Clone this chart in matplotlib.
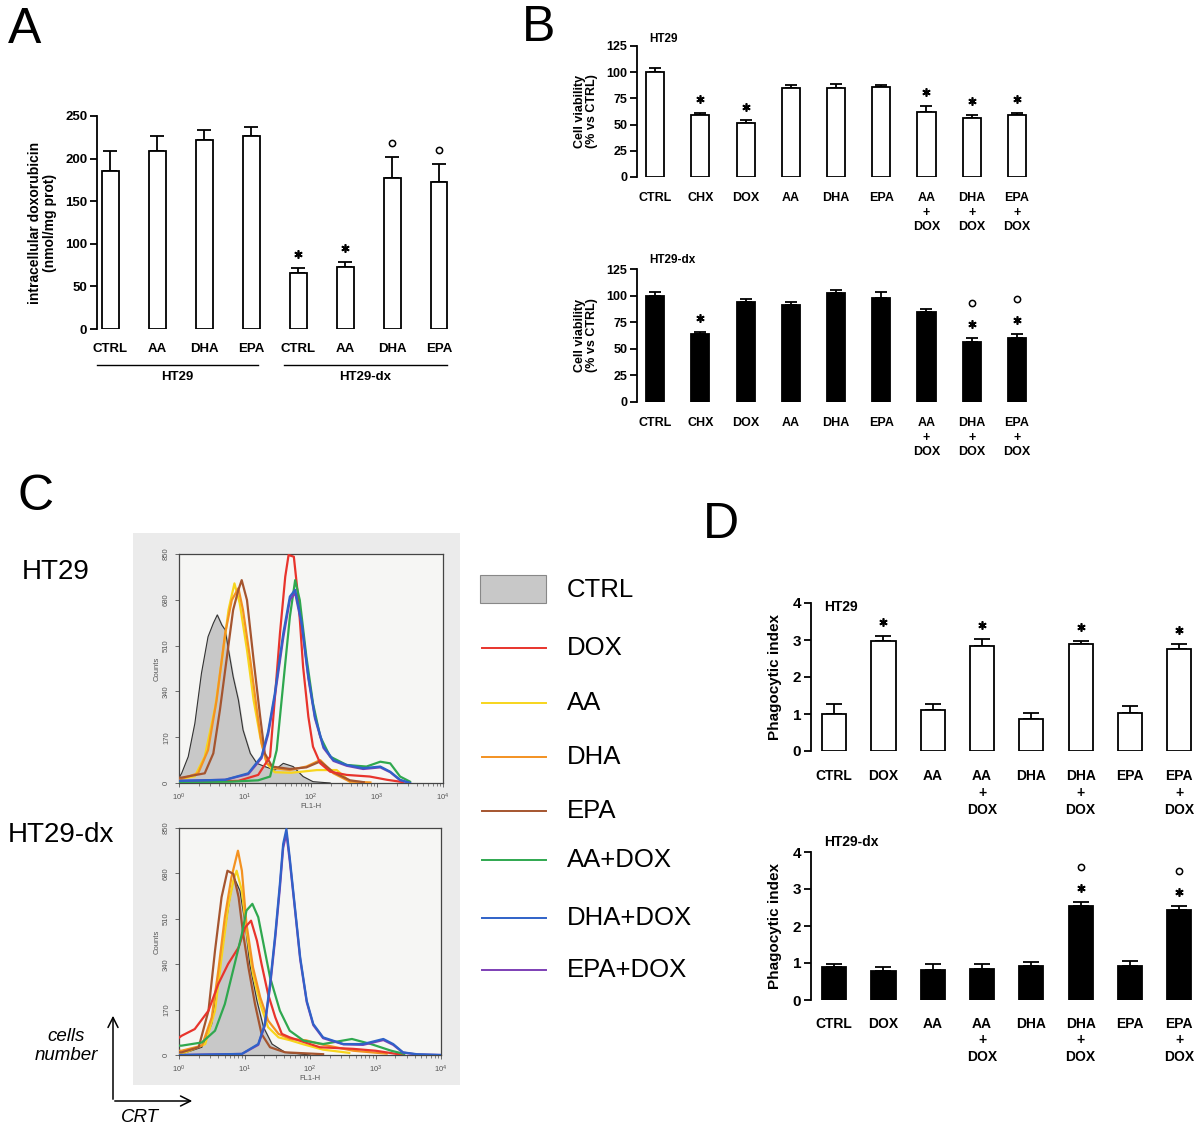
import matplotlib.pyplot as plt
import matplotlib.transforms as mtransforms
from matplotlib.patches import Rectangle
import numpy as np

plt.rcParams['font.family'] = ['Liberation Sans', 'DejaVu Sans']

W, H = 1200, 1136

# panel A: intracellular doxorubicin
a_labels = ['CTRL', 'AA', 'DHA', 'EPA', 'CTRL', 'AA', 'DHA', 'EPA']
a_groups = ['HT29', 'HT29-dx']
a_vals = [186, 209, 222, 227, 66, 73, 177, 173]
a_err = [23, 18, 11, 10, 6, 6, 25, 21]
a_sig = ['', '', '', '', '*', '*', 'o', 'o']

# panel B: cell viability
b_labels = ['CTRL', 'CHX', 'DOX', 'AA', 'DHA', 'EPA', 'AA\n+\nDOX', 'DHA\n+\nDOX', 'EPA\n+\nDOX']
b_ht29 = [100, 59, 52, 85, 85, 86, 62, 56, 59]
b_ht29_err = [4, 2, 2, 3, 4, 2, 6, 3, 2]
b_ht29_sig = ['', '*', '*', '', '', '', '*', '*', '*']
b_dx = [100, 64, 94, 91, 102, 98, 85, 56, 60]
b_dx_err = [3, 2, 3, 3, 3, 5, 2, 4, 4]
b_dx_sig = ['', '*', '', '', '', '', '', '*o', '*o']

# panel D: phagocytic index
d_labels = ['CTRL', 'DOX', 'AA', 'AA\n+\nDOX', 'DHA', 'DHA\n+\nDOX', 'EPA', 'EPA\n+\nDOX']
d_ht29 = [1.0, 2.98, 1.1, 2.84, 0.86, 2.88, 1.02, 2.75]
d_ht29_err = [0.28, 0.14, 0.18, 0.20, 0.17, 0.10, 0.19, 0.14]
d_ht29_sig = ['', '*', '', '*', '', '*', '', '*']
d_dx = [0.88, 0.78, 0.82, 0.84, 0.91, 2.53, 0.93, 2.42]
d_dx_err = [0.10, 0.10, 0.14, 0.12, 0.12, 0.12, 0.13, 0.13]
d_dx_sig = ['', '', '', '', '', '*o', '', '*o']

# panel C: flow cytometry curves, (log10 FL1-H, counts)
c_names = ['CTRL', 'DOX', 'AA', 'DHA', 'EPA', 'AA+DOX', 'DHA+DOX', 'EPA+DOX']
c_colors = ['#c8c8c8', '#e8342c', '#f7d51d', '#f39221', '#a5552f', '#2fa84f', '#2f62c8', '#7d3fb5']

top_ctrl = ([0.0, 0.04, 0.14, 0.24, 0.34, 0.44, 0.52, 0.58, 0.65, 0.70, 0.75, 0.82, 0.90, 0.97, 1.08, 1.18,
             1.30, 1.45, 1.58, 1.73, 1.88, 2.03, 2.29],
            [20, 36, 98, 221, 407, 543, 593, 624, 586, 568, 494, 395, 308, 197, 110, 73,
             61, 48, 73, 61, 24, 5, 0])
top_dox = ([0.0, 0.90, 1.20, 1.38, 1.45, 1.53, 1.61, 1.66, 1.74, 1.81, 1.88, 1.96, 2.03, 2.14, 2.29, 2.54,
            2.89, 3.15, 3.40],
           [3, 8, 30, 98, 308, 556, 766, 846, 840, 679, 432, 246, 135, 73, 42, 30, 24, 12, 3])
top_aa = ([0.0, 0.04, 0.24, 0.39, 0.55, 0.65, 0.75, 0.84, 0.92, 1.03, 1.13, 1.23, 1.33, 1.45, 1.70, 2.09,
           2.39, 2.59],
          [12, 16, 25, 98, 283, 457, 642, 741, 667, 494, 308, 172, 73, 40, 38, 48, 48, 5])
top_dha = ([0.0, 0.04, 0.29, 0.44, 0.57, 0.70, 0.80, 0.90, 0.97, 1.08, 1.18, 1.25, 1.33, 1.45, 1.68, 1.93,
            2.14, 2.34, 2.59, 2.90],
           [12, 16, 36, 122, 308, 556, 679, 723, 642, 457, 271, 147, 73, 55, 48, 61, 85, 36, 5, 2])
top_epa = ([0.0, 0.04, 0.39, 0.52, 0.62, 0.72, 0.82, 0.90, 0.95, 1.03, 1.13, 1.23, 1.30, 1.41, 1.68, 1.93,
            2.14, 2.34, 2.59, 2.80],
           [20, 20, 36, 110, 271, 457, 642, 717, 753, 679, 457, 246, 110, 61, 52, 58, 80, 40, 10, 3])
top_aadox = ([0.0, 0.80, 1.20, 1.38, 1.48, 1.58, 1.68, 1.76, 1.83, 1.93, 2.03, 2.14, 2.29, 2.54, 2.84, 3.05,
              3.20, 3.35, 3.50],
             [3, 5, 10, 24, 122, 370, 617, 753, 679, 469, 296, 172, 98, 67, 61, 79, 73, 24, 5])
top_dhadox = ([0.0, 0.70, 1.05, 1.25, 1.35, 1.45, 1.58, 1.68, 1.76, 1.86, 1.96, 2.06, 2.19, 2.34, 2.54, 2.79,
               3.05, 3.20, 3.35, 3.50],
              [8, 12, 36, 98, 190, 330, 556, 692, 717, 593, 395, 246, 135, 85, 67, 55, 61, 42, 12, 0])
top_epadox = ([0.0, 0.70, 1.05, 1.25, 1.35, 1.45, 1.58, 1.68, 1.76, 1.86, 1.96, 2.06, 2.19, 2.34, 2.54, 2.79,
               3.05, 3.20, 3.35, 3.50],
              [8, 12, 33, 92, 180, 318, 540, 680, 705, 585, 388, 240, 130, 82, 64, 52, 58, 40, 10, 0])

bot_ctrl = ([0.0, 0.04, 0.35, 0.50, 0.60, 0.70, 0.78, 0.84, 0.93, 1.01, 1.08, 1.19, 1.29, 1.42, 1.62, 2.00],
            [4, 4, 29, 116, 278, 466, 591, 665, 615, 491, 341, 203, 104, 41, 10, 0])
bot_dox = ([0.0, 0.04, 0.24, 0.45, 0.60, 0.75, 0.91, 1.01, 1.10, 1.19, 1.26, 1.36, 1.47, 1.57, 1.69, 2.15,
            2.66, 3.00, 3.43],
           [65, 72, 97, 166, 266, 341, 403, 478, 503, 428, 341, 228, 141, 79, 66, 29, 23, 16, 0])
bot_aa = ([0.0, 0.04, 0.40, 0.55, 0.65, 0.75, 0.83, 0.88, 0.96, 1.03, 1.13, 1.24, 1.36, 1.52, 1.70, 1.90,
           2.20, 2.60],
          [4, 4, 41, 166, 366, 553, 653, 690, 615, 466, 303, 191, 104, 66, 55, 40, 20, 8])
bot_dha = ([0.0, 0.04, 0.35, 0.50, 0.60, 0.70, 0.80, 0.90, 0.96, 1.03, 1.13, 1.24, 1.36, 1.52, 1.70, 1.94,
            2.15, 2.66, 3.17],
           [16, 16, 35, 141, 316, 516, 665, 765, 690, 491, 328, 216, 129, 79, 60, 55, 41, 16, 5])
bot_epa = ([0.0, 0.04, 0.30, 0.45, 0.55, 0.65, 0.74, 0.83, 0.91, 0.98, 1.06, 1.16, 1.26, 1.39, 1.62, 2.20],
           [10, 10, 29, 166, 391, 591, 690, 678, 591, 453, 328, 191, 79, 29, 10, 3])
bot_aadox = ([0.0, 0.04, 0.35, 0.55, 0.70, 0.85, 0.96, 1.03, 1.12, 1.21, 1.29, 1.39, 1.54, 1.69, 1.90, 2.20,
              2.64, 2.93, 3.24, 3.44],
             [35, 35, 47, 91, 191, 341, 453, 541, 566, 516, 416, 291, 166, 91, 54, 41, 60, 41, 16, 4])
bot_dhadox = ([0.0, 0.96, 1.21, 1.31, 1.39, 1.47, 1.54, 1.59, 1.64, 1.69, 1.77, 1.85, 1.95, 2.05, 2.20, 2.51,
               2.81, 3.12, 3.27, 3.42, 3.63, 4.0],
              [0, 4, 41, 116, 266, 453, 640, 790, 846, 740, 553, 366, 203, 116, 66, 41, 41, 60, 41, 10, 3, 0])
bot_epadox = ([0.0, 0.96, 1.21, 1.31, 1.39, 1.47, 1.54, 1.59, 1.64, 1.69, 1.77, 1.85, 1.95, 2.05, 2.20, 2.51,
               2.81, 3.12, 3.27, 3.42, 3.63, 4.0],
              [0, 4, 38, 110, 255, 440, 625, 775, 830, 728, 545, 358, 198, 112, 63, 40, 38, 56, 38, 9, 2, 0])

fig = plt.figure(figsize=(12, 11.36), dpi=100)

ov = fig.add_axes([0, 0, 1, 1])
ov.set_xlim(0, W)
ov.set_ylim(H, 0)
ov.axis('off')


def px_axes(x0, y0, x1, y1):
    return fig.add_axes([x0 / W, 1 - y1 / H, (x1 - x0) / W, (y1 - y0) / H])


def bar_panel(ax, labels, vals, errs, sigs, filled, width, xlim, ylim, yticks,
              tfs, lfs, cap, pad):
    x = np.arange(len(vals))
    vals = np.array(vals)
    errs = np.array(errs)
    ax.bar(x, vals, width, color='black' if filled else 'white',
           edgecolor='black', linewidth=1.3, zorder=3)
    ax.errorbar(x, vals, yerr=[np.zeros(len(vals)), errs], fmt='none',
                ecolor='black', elinewidth=1.3, capsize=cap, capthick=1.3, zorder=2)
    for i, s in enumerate(sigs):
        for k, ch in enumerate(s):
            dy = 10 + 15 * k
            tr = ax.transData + mtransforms.ScaledTranslation(0, dy / 72, fig.dpi_scale_trans)
            if ch == '*':
                ax.plot(x[i], vals[i] + errs[i], marker=(6, 2, 0), ms=6, mew=1.2,
                        color='black', transform=tr, clip_on=False)
            else:
                ax.plot(x[i], vals[i] + errs[i], marker='o', ms=4.5, mew=1.1,
                        mfc='white', mec='black', transform=tr, clip_on=False)
    ax.set_xlim(*xlim)
    ax.set_ylim(*ylim)
    ax.set_yticks(yticks)
    ax.set_xticks(x)
    ax.set_xticklabels(labels, fontsize=lfs, fontweight='bold', linespacing=1.25, va='top')
    for t in ax.get_yticklabels():
        t.set_fontsize(tfs)
        t.set_fontweight('bold')
    ax.tick_params(axis='x', length=0, pad=pad)
    ax.tick_params(axis='y', length=5, width=1.3, pad=2)
    for sp in ['top', 'right', 'bottom']:
        ax.spines[sp].set_visible(False)
    ax.spines['left'].set_linewidth(1.3)
    ax.patch.set_alpha(0)


# ---- A
axA = px_axes(97, 116, 455, 329)
bar_panel(axA, a_labels, a_vals, a_err, a_sig, False, 0.36, (-0.28, 7.34), (0, 250),
          [0, 50, 100, 150, 200, 250], 9.5, 9.5, 5, 10)
axA.set_ylabel('intracellular doxorubicin\n(nmol/mg prot)', fontsize=10, fontweight='bold',
               linespacing=1.1, labelpad=6)
gtr = axA.get_xaxis_transform()
for g, (x0, x1) in zip(a_groups, [(-0.28, 3.15), (3.7, 7.17)]):
    axA.plot([x0, x1], [-0.169, -0.169], color='black', lw=1, transform=gtr, clip_on=False)
    axA.text((x0 + x1) / 2, -0.225, g, transform=gtr, ha='center', va='center',
             fontsize=9.5, fontweight='bold')

# ---- B
axB1 = px_axes(637, 46, 1035, 177)
bar_panel(axB1, b_labels, b_ht29, b_ht29_err, b_ht29_sig, False, 0.40, (-0.40, 8.40), (0, 125),
          [0, 25, 50, 75, 100, 125], 9, 9, 4.5, 11)
axB1.set_ylabel('Cell viability\n(% vs CTRL)', fontsize=9, fontweight='bold', linespacing=1.0, labelpad=6)
axB1.text(0.03, 1.05, 'HT29', transform=axB1.transAxes, fontsize=8.5, fontweight='bold', va='center')

axB2 = px_axes(637, 269, 1035, 402)
bar_panel(axB2, b_labels, b_dx, b_dx_err, b_dx_sig, True, 0.40, (-0.40, 8.40), (0, 125),
          [0, 25, 50, 75, 100, 125], 9, 9, 4.5, 11)
axB2.set_ylabel('Cell viability\n(% vs CTRL)', fontsize=9, fontweight='bold', linespacing=1.0, labelpad=6)
axB2.text(0.03, 1.07, 'HT29-dx', transform=axB2.transAxes, fontsize=8.5, fontweight='bold', va='center')

# ---- D
axD1 = px_axes(811, 603, 1195, 751)
bar_panel(axD1, d_labels, d_ht29, d_ht29_err, d_ht29_sig, False, 0.49, (-0.47, 7.32), (0, 4),
          [0, 1, 2, 3, 4], 11, 10, 5.5, 13)
axD1.set_ylabel('Phagocytic index', fontsize=11, fontweight='bold', labelpad=8)
axD1.text(0.035, 0.97, 'HT29', transform=axD1.transAxes, fontsize=10, fontweight='bold', va='center')

axD2 = px_axes(811, 852, 1195, 1000)
bar_panel(axD2, d_labels, d_dx, d_dx_err, d_dx_sig, True, 0.49, (-0.47, 7.32), (0, 4),
          [0, 1, 2, 3, 4], 11, 10, 5.5, 12)
axD2.set_ylabel('Phagocytic index', fontsize=11, fontweight='bold', labelpad=8)
axD2.text(0.035, 1.07, 'HT29-dx', transform=axD2.transAxes, fontsize=10, fontweight='bold', va='center')

# ---- C
ov.add_patch(Rectangle((133, 533), 327, 552, facecolor='#ebebeb', edgecolor='none', zorder=0))


def hist_panel(ax, curves):
    ctrl = curves[0]
    ax.fill_between(10 ** np.array(ctrl[0]), ctrl[1], color=c_colors[0], zorder=1)
    ax.plot(10 ** np.array(ctrl[0]), ctrl[1], color='#333333', lw=0.8, zorder=2)
    order = [2, 3, 4, 1, 5, 7, 6]
    for i in order:
        cx, cy = curves[i]
        ax.plot(10 ** np.array(cx), cy, color=c_colors[i], lw=1.6, zorder=3)
    ax.set_xscale('log')
    ax.set_xlim(1, 1e4)
    ax.set_ylim(0, 850)
    ax.set_yticks([0, 170, 340, 510, 680, 850])
    ax.set_facecolor('#f6f6f4')
    for t in ax.get_yticklabels():
        t.set_rotation(90)
        t.set_va('center')
    ax.tick_params(labelsize=5.5, colors='#555555', length=3, width=0.6)
    ax.tick_params(which='minor', length=2, width=0.5, colors='#555555')
    ax.set_xlabel('FL1-H', fontsize=5.5, color='#555555', labelpad=0)
    ax.set_ylabel('Counts', fontsize=5.5, color='#555555', labelpad=2)
    for sp in ax.spines.values():
        sp.set_linewidth(0.9)
        sp.set_color('#444444')


axC1 = px_axes(179, 554, 443, 783)
hist_panel(axC1, [top_ctrl, top_dox, top_aa, top_dha, top_epa, top_aadox, top_dhadox, top_epadox])
axC2 = px_axes(179, 828, 441, 1055)
hist_panel(axC2, [bot_ctrl, bot_dox, bot_aa, bot_dha, bot_epa, bot_aadox, bot_dhadox, bot_epadox])

# legend of C
leg_y = [590, 648, 703, 757, 811, 860, 918, 970]
for name, col, y in zip(c_names, c_colors, leg_y):
    if name == 'CTRL':
        ov.add_patch(Rectangle((480, y - 15), 66, 28, facecolor=col, edgecolor='#888888', lw=0.8))
    else:
        ov.plot([482, 546], [y, y], color=col, lw=1.4)
    ov.text(567, y, name, fontsize=18.5, va='center', ha='left')

ov.text(22, 572, 'HT29', fontsize=20, va='center')
ov.text(8, 835, 'HT29-dx', fontsize=20, va='center')
ov.text(66, 1046, 'cells\nnumber', fontsize=13.5, style='italic', ha='center', va='center', linespacing=1.2)
ov.text(140, 1117, 'CRT', fontsize=13.5, style='italic', ha='center', va='center')
ov.annotate('', xy=(113, 1013), xytext=(113, 1102),
            arrowprops=dict(arrowstyle='->', lw=1.1, color='black', mutation_scale=18))
ov.annotate('', xy=(195, 1101), xytext=(112, 1101),
            arrowprops=dict(arrowstyle='->', lw=1.1, color='black', mutation_scale=18))

# panel letters
for letter, x, y in [('A', 8, 30), ('B', 522, 28), ('C', 18, 497), ('D', 703, 525)]:
    ov.text(x, y, letter, fontsize=36, va='center', ha='left')

fig.savefig('out.png', dpi=100)
